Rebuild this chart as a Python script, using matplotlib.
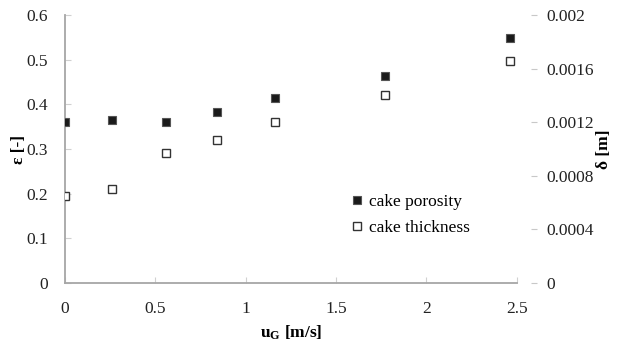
import matplotlib
matplotlib.use("Agg")
import matplotlib.pyplot as plt

# Data
u_g = [0.0, 0.26, 0.56, 0.84, 1.16, 1.77, 2.46]
porosity = [0.360, 0.366, 0.360, 0.383, 0.415, 0.463, 0.549]
thickness = [0.00065, 0.00070, 0.000967, 0.00107, 0.00120, 0.00140, 0.00166]

x_ticks = [0, 0.5, 1, 1.5, 2, 2.5]
x_ticklabels = ["0", "0.5", "1", "1.5", "2", "2.5"]
y_ticks = [0, 0.1, 0.2, 0.3, 0.4, 0.5, 0.6]
y_ticklabels = ["0", "0.1", "0.2", "0.3", "0.4", "0.5", "0.6"]
y2_ticks = [0, 0.0004, 0.0008, 0.0012, 0.0016, 0.002]
y2_ticklabels = ["0", "0.0004", "0.0008", "0.0012", "0.0016", "0.002"]

plt.rcParams['font.family'] = ['Liberation Serif', 'DejaVu Serif']
plt.rcParams['mathtext.fontset'] = 'custom'
plt.rcParams['mathtext.rm'] = 'Liberation Serif'
plt.rcParams['mathtext.bf'] = 'Liberation Serif:bold'

fig = plt.figure(figsize=(6.19, 3.49), dpi=100)
ax = fig.add_axes([0.105, 0.189, 0.730, 0.768])
ax2 = ax.twinx()

spine_col = '#a6a6a6'
ax.plot(u_g, porosity, linestyle='none', marker='s', markersize=6,
        markerfacecolor='#1a1a1a', markeredgecolor='#555555', markeredgewidth=0.8,
        label='cake porosity', zorder=3)
ax2.plot(u_g, thickness, linestyle='none', marker='s', markersize=6,
         markerfacecolor='white', markeredgecolor='#333333', markeredgewidth=1.0,
         label='cake thickness', zorder=3)

ax.set_xlim(0, 2.5)
ax.set_ylim(0, 0.6)
ax2.set_ylim(0, 0.002)

ax.set_xticks(x_ticks)
ax.set_xticklabels(x_ticklabels)
ax.set_yticks(y_ticks)
ax.set_yticklabels(y_ticklabels)
ax2.set_yticks(y2_ticks)
ax2.set_yticklabels(y2_ticklabels)

for a in (ax, ax2):
    for s in ('top', 'right', 'left', 'bottom'):
        a.spines[s].set_visible(False)
ax.spines['left'].set_visible(True)
ax.spines['bottom'].set_visible(True)
ax.spines['left'].set_color(spine_col)
ax.spines['bottom'].set_color(spine_col)
ax.spines['left'].set_linewidth(1.3)
ax.spines['bottom'].set_linewidth(1.3)

fs = 12.5
ax.tick_params(axis='both', direction='in', length=4, color='#d0d0d0',
               labelsize=fs, labelcolor='#222222')
ax.tick_params(axis='y', pad=12)
ax.tick_params(axis='x', pad=13)
ax2.spines['right'].set_position(('outward', 10))
ax2.tick_params(axis='y', direction='out', length=4, color='#c8c8c8',
                labelsize=fs, labelcolor='#222222', pad=7)

ax.set_xlabel(r'$\mathbf{u_G}$ [m/s]', fontsize=12.5, fontweight='bold', labelpad=5)
ax.set_ylabel('ε [-]', fontsize=12.5, fontweight='bold', labelpad=0)
ax2.set_ylabel('δ [m]', fontsize=12.5, fontweight='bold', labelpad=2)

h1, l1 = ax.get_legend_handles_labels()
h2, l2 = ax2.get_legend_handles_labels()
ax2.legend(h1 + h2, l1 + l2, loc='center left', bbox_to_anchor=(0.6, 0.255),
           frameon=False, fontsize=fs, handlelength=0.6, handletextpad=0.4,
           labelspacing=0.55)

fig.savefig('out.png', dpi=100)
